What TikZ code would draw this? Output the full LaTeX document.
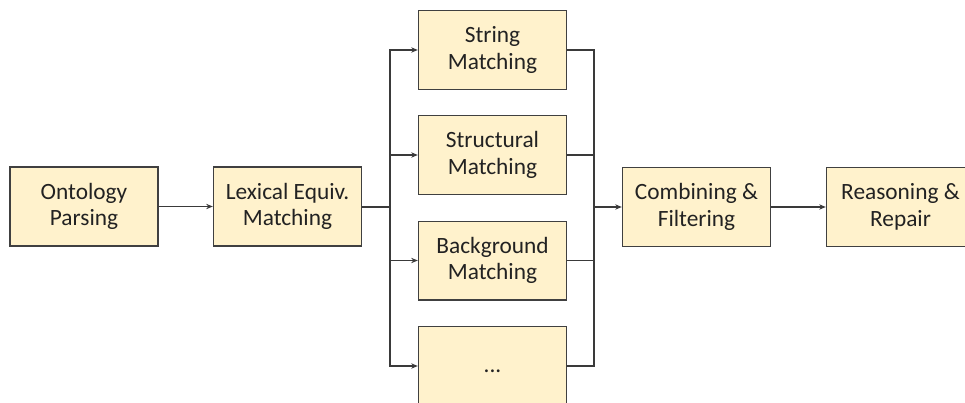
\documentclass[tikz,border=0pt]{standalone}
\usepackage{fontspec}
\setmainfont{Carlito}
\usetikzlibrary{arrows.meta}
\definecolor{boxfill}{HTML}{FFF2CC}
\definecolor{boxline}{HTML}{404040}
\definecolor{wire}{HTML}{3A3A3A}
\definecolor{ink}{HTML}{222222}
\begin{document}
\begin{tikzpicture}[x=0.75pt,y=-0.75pt,
  stage/.style={draw=boxline,line width=1pt,fill=boxfill,rectangle,
    minimum width=111pt,minimum height=59pt,inner sep=2pt,align=center,
    text=ink,font=\fontsize{17.5pt}{20pt}\selectfont},
  wireline/.style={draw=wire,line width=0.8pt},
  trunk/.style={draw=wire,line width=1.5pt},
  tip/.style={-{Stealth[length=5pt,width=4pt]}}]
\useasboundingbox (0,0) rectangle (965,403);
\clip (0,0) rectangle (965,403);

% stages of the pipeline
\node[stage] (parse) at (84,206.5) {Ontology\\Parsing};
\node[stage] (lex)   at (287.5,206.5) {Lexical Equiv.\\Matching};
\node[stage] (str)   at (492.5,50) {String\\Matching};
\node[stage] (struc) at (492.5,155) {Structural\\Matching};
\node[stage] (bg)    at (492.5,260.5) {Background\\Matching};
\node[stage] (more)  at (492.5,366) {\raisebox{-5pt}[0pt][0pt]{...}};
\node[stage] (comb)  at (696.5,207) {Combining \&\\Filtering};
\node[stage] (rea)   at (900.5,207) {Reasoning \&\\Repair};

% split and merge points of the parallel matchers
\coordinate (split) at (390,206.5);
\coordinate (merge) at (594,207);

\draw[wireline,tip] (parse.east) -- (lex.west);
\draw[trunk] (lex.east) -- (split);
\foreach \m in {str,struc,bg,more}{
  \draw[wireline,tip] (split) |- (\m.west);
  \draw[wireline] (\m.east) -| (merge);
}
\draw[trunk,tip] (merge) -- (comb.west);
\draw[wireline,tip] (comb.east) -- (rea.west);
\end{tikzpicture}
\end{document}
